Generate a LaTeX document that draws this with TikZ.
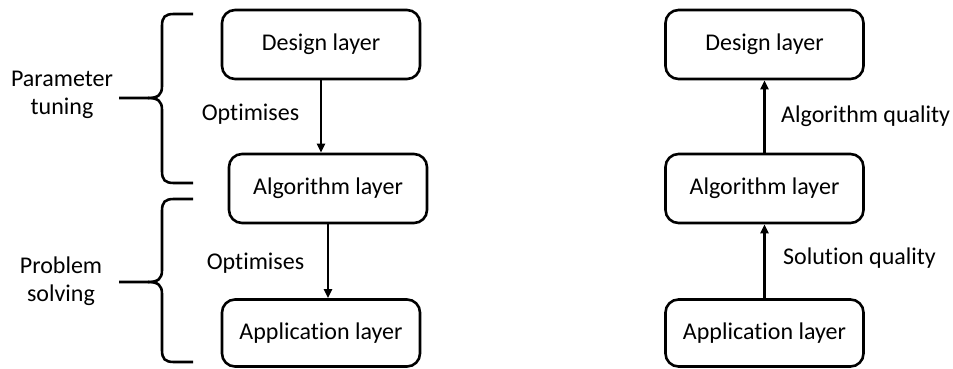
\documentclass[tikz,border=0pt]{standalone}
\usepackage{fontspec}
\setmainfont[Ligatures=NoCommon]{Carlito}
\usetikzlibrary{arrows.meta}
\tikzset{
  layerbox/.style={draw, line width=2.6pt, rounded corners=13pt, minimum width=198pt, minimum height=69pt, inner sep=0pt, font=\fontsize{24}{28}\selectfont},
  lbl/.style={inner sep=0pt, font=\fontsize{24}{28}\selectfont},
  side/.style={inner sep=0pt, align=center, font=\fontsize{24}{28}\selectfont},
  arr/.style={line width=2.2pt, -{Triangle[length=9pt,width=8pt]}},
  bracepath/.style={line width=2.6pt}
}
\begin{document}
\begin{tikzpicture}[x=1pt,y=-1pt]
\useasboundingbox (0,0) rectangle (953,369);
% left column
\node[layerbox] (d1) at (321,44.5) {Design layer};
\node[layerbox] (a1) at (328,188.5) {Algorithm layer};
\node[layerbox, minimum height=67pt] (p1) at (321,333) {Application layer};
\draw[arr] (d1.south) -- (d1.south |- a1.north);
\draw[arr] (a1.south) -- (a1.south |- p1.north);
\node[lbl] (o1) at (250.5,114) {Optimises};
\node[lbl] (o2) at (255.5,263) {Optimises};
% braces
\draw[bracepath] (193,14) -- (174,14) .. controls (165,14) and (162,17) .. (162,26)
  -- (162,86) .. controls (162,95) and (158,98) .. (148,98) -- (119,98);
\draw[bracepath] (148,98) .. controls (158,98) and (162,101) .. (162,110)
  -- (162,171) .. controls (162,180) and (165,183) .. (174,183) -- (193,183);
\draw[bracepath] (193,199) -- (174,199) .. controls (165,199) and (162,202) .. (162,211)
  -- (162,270) .. controls (162,279) and (158,282) .. (148,282) -- (119,282);
\draw[bracepath] (148,282) .. controls (158,282) and (162,285) .. (162,294)
  -- (162,350) .. controls (162,359) and (165,362) .. (174,362) -- (193,362);
\node[side] (pt) at (62,95) {Parameter\\tuning};
\node[side] (ps) at (61,281) {Problem\\solving};
% right column
\node[layerbox] (d2) at (764.5,44.5) {Design layer};
\node[layerbox] (a2) at (764.5,188.5) {Algorithm layer};
\node[layerbox, minimum height=67pt] (p2) at (764.5,333) {Application layer};
\draw[arr] (p2.north) -- (a2.south);
\draw[arr] (a2.north) -- (d2.south);
\node[lbl, anchor=west] (aq) at (781,116) {Algorithm quality};
\node[lbl, anchor=west] (sq) at (783,258) {Solution quality};
\end{tikzpicture}
\end{document}
